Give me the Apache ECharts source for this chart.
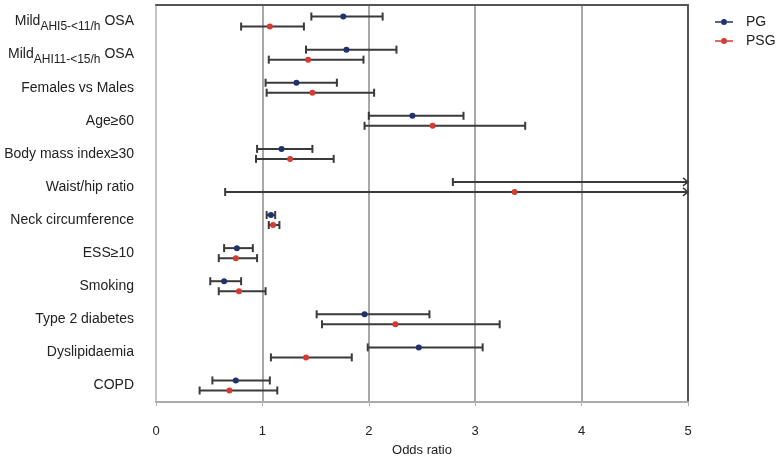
<!DOCTYPE html>
<html>
<head>
<meta charset="utf-8">
<script src="https://cdn.jsdelivr.net/npm/echarts@6/dist/echarts.min.js"></script>
<style>html,body{margin:0;padding:0;background:#fff}#c{width:777px;height:457px}</style>
</head>
<body>
<div id="c"></div>
<script>
const categories = [
  'Mild{sub|AHI5-<11/h} OSA',
  'Mild{sub|AHI11-<15/h} OSA',
  'Females vs Males',
  'Age≥60',
  'Body mass index≥30',
  'Waist/hip ratio',
  'Neck circumference',
  'ESS≥10',
  'Smoking',
  'Type 2 diabetes',
  'Dyslipidaemia',
  'COPD'
];
const xTicks = [0, 1, 2, 3, 4, 5];
// PG: odds ratio and 95% CI
const pgLow  = [1.46, 1.41, 1.03, 2.00, 0.95, 2.79, 1.04, 0.64, 0.51, 1.51, 1.99, 0.53];
const pgOR   = [1.76, 1.79, 1.32, 2.41, 1.18, 5.50, 1.08, 0.76, 0.64, 1.96, 2.47, 0.75];
const pgHigh = [2.13, 2.26, 1.70, 2.89, 1.47, 10.9, 1.12, 0.91, 0.80, 2.57, 3.07, 1.07];
// PSG: odds ratio and 95% CI
const psgLow  = [0.80, 1.06, 1.04, 1.96, 0.94, 0.65, 1.06, 0.59, 0.59, 1.56, 1.08, 0.41];
const psgOR   = [1.07, 1.43, 1.47, 2.60, 1.26, 3.37, 1.10, 0.75, 0.78, 2.25, 1.41, 0.69];
const psgHigh = [1.39, 1.95, 2.05, 3.47, 1.67, 17.5, 1.16, 0.95, 1.03, 3.23, 1.84, 1.14];

const X_MIN = 0, X_MAX = 5;
const BAR = '#3a3a3a';

function makeRender(offset) {
  return function (params, api) {
    const i = api.value(0);
    const low = api.value(1), mid = api.value(2), high = api.value(3);
    const lo = Math.max(low, X_MIN), hi = Math.min(high, X_MAX);
    const p1 = api.coord([lo, i]);
    const p2 = api.coord([hi, i]);
    const y = p1[1] + offset;
    const color = api.visual('color');
    const ls = { stroke: BAR, lineWidth: 2 };
    const children = [
      { type: 'line', shape: { x1: p1[0], y1: y, x2: p2[0], y2: y }, style: ls }
    ];
    if (low >= X_MIN) children.push({ type: 'line', shape: { x1: p1[0], y1: y - 4, x2: p1[0], y2: y + 4 }, style: ls });
    if (high <= X_MAX) {
      children.push({ type: 'line', shape: { x1: p2[0], y1: y - 4, x2: p2[0], y2: y + 4 }, style: ls });
    } else {
      children.push({ type: 'polyline', shape: { points: [[p2[0] - 5, y - 4], [p2[0], y], [p2[0] - 5, y + 4]] }, style: { stroke: BAR, lineWidth: 1.5, fill: null } });
    }
    if (mid >= X_MIN && mid <= X_MAX) {
      const pm = api.coord([mid, i]);
      children.push({ type: 'circle', shape: { cx: pm[0], cy: y, r: 3 }, style: { fill: color } });
    }
    return { type: 'group', children: children };
  };
}

const pgData = categories.map((c, i) => [i, pgLow[i], pgOR[i], pgHigh[i]]);
const psgData = categories.map((c, i) => [i, psgLow[i], psgOR[i], psgHigh[i]]);

const legendIcon = 'path://M0,3.3h6v1.4h-6z M12,3.3h6v1.4h-6z M6,4a3,3 0 1,0 6,0a3,3 0 1,0 -6,0z';

const chart = echarts.init(document.getElementById('c'), null, { renderer: 'canvas' });
chart.setOption({
  animation: false,
  textStyle: { fontFamily: 'Liberation Sans, Arial, sans-serif' },
  legend: {
    orient: 'vertical',
    left: 710, top: 10,
    itemWidth: 18, itemHeight: 8, itemGap: 5,
    textStyle: { fontSize: 14, color: '#222', padding: [0, 0, 0, 8] },
    data: [{ name: 'PG', icon: legendIcon }, { name: 'PSG', icon: legendIcon }]
  },
  grid: { left: 156, right: 89, top: 5, bottom: 55, outerBoundsMode: 'none', containLabel: false },
  xAxis: [{
    type: 'value', min: X_MIN, max: X_MAX, interval: 1,
    name: 'Odds ratio', nameLocation: 'middle', nameGap: 42,
    nameTextStyle: { fontSize: 13, color: '#222' },
    axisLine: { show: true, onZero: false, lineStyle: { color: '#ababab', width: 2 } },
    axisTick: { show: true, length: 4, lineStyle: { color: '#b0b0b0' } },
    axisLabel: { fontSize: 13, color: '#222', margin: 23, formatter: v => xTicks.includes(v) ? String(v) : '' },
    splitLine: { show: true, showMinLine: false, showMaxLine: false, lineStyle: { color: '#a8a8a8', width: 2 } }
  }, {
    type: 'value', min: X_MIN, max: X_MAX, position: 'top',
    axisLine: { show: true, onZero: false, lineStyle: { color: '#555', width: 2 } },
    axisTick: { show: false }, axisLabel: { show: false }, splitLine: { show: false }
  }],
  yAxis: [{
    type: 'category', data: categories, inverse: true,
    axisLine: { show: true, onZero: false, lineStyle: { color: '#c4c4c4', width: 2 } },
    axisTick: { alignWithLabel: true, length: 8, lineStyle: { color: '#bbbbbb' } },
    axisLabel: {
      fontSize: 14, color: '#222', margin: 22,
      rich: { sub: { fontSize: 12, color: '#222', padding: [11, 0, 0, 0] } }
    },
    splitLine: { show: false }
  }, {
    type: 'category', data: categories, inverse: true, position: 'right',
    axisLine: { show: true, onZero: false, lineStyle: { color: '#555', width: 2 } },
    axisTick: { show: false }, axisLabel: { show: false }
  }],
  series: [
    { name: 'PG', type: 'custom', itemStyle: { color: '#1f326e' }, renderItem: makeRender(-5),
      encode: { x: [1, 2, 3], y: 0 }, data: pgData, clip: false },
    { name: 'PSG', type: 'custom', itemStyle: { color: '#d63b31' }, renderItem: makeRender(5),
      encode: { x: [1, 2, 3], y: 0 }, data: psgData, clip: false }
  ]
});
</script>
</body>
</html>
